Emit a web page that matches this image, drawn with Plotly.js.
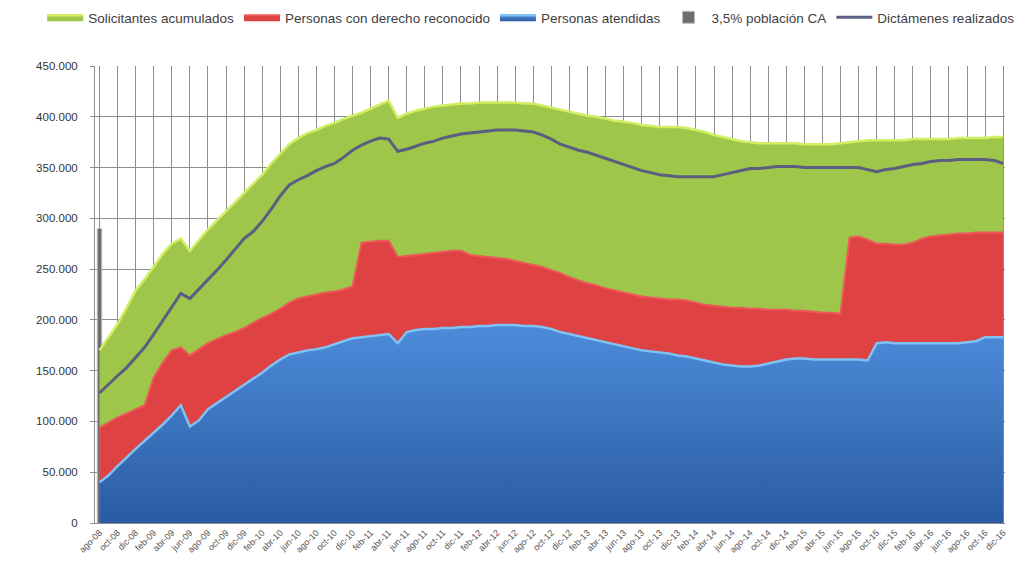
<!DOCTYPE html>
<html>
<head>
<meta charset="utf-8">
<script src="https://cdn.plot.ly/plotly-3.0.1.min.js"></script>
<style>html,body{margin:0;padding:0;background:#fff;}#chart{width:1034px;height:579px;}</style>
</head>
<body>
<div id="chart"></div>
<script>
const months = ("ago-08 sep-08 oct-08 nov-08 dic-08 " +
  "ene-09 feb-09 mar-09 abr-09 may-09 jun-09 jul-09 ago-09 sep-09 oct-09 nov-09 dic-09 " +
  "ene-10 feb-10 mar-10 abr-10 may-10 jun-10 jul-10 ago-10 sep-10 oct-10 nov-10 dic-10 " +
  "ene-11 feb-11 mar-11 abr-11 may-11 jun-11 jul-11 ago-11 sep-11 oct-11 nov-11 dic-11 " +
  "ene-12 feb-12 mar-12 abr-12 may-12 jun-12 jul-12 ago-12 sep-12 oct-12 nov-12 dic-12 " +
  "ene-13 feb-13 mar-13 abr-13 may-13 jun-13 jul-13 ago-13 sep-13 oct-13 nov-13 dic-13 " +
  "ene-14 feb-14 mar-14 abr-14 may-14 jun-14 jul-14 ago-14 sep-14 oct-14 nov-14 dic-14 " +
  "ene-15 feb-15 mar-15 abr-15 may-15 jun-15 jul-15 ago-15 sep-15 oct-15 nov-15 dic-15 " +
  "ene-16 feb-16 mar-16 abr-16 may-16 jun-16 jul-16 ago-16 sep-16 oct-16 nov-16 dic-16").split(" ");

const tickLabels = months.filter((m, i) => i % 2 === 0);

const solicitantes = [
  170000,183000,196000,212000,229000,240000,252000,265000,275000,280000,
  268000,279000,289000,298000,307000,316000,325000,334000,343000,354000,
  364000,373000,379000,384000,387000,391000,394000,398000,401000,404000,
  408000,412000,416000,399000,403000,406000,408000,410000,411000,412000,
  413000,413000,414000,414000,414000,414000,414000,413000,413000,411000,
  409000,407000,405000,403000,401000,400000,398000,396000,395000,394000,
  392000,391000,390000,390000,390000,389000,387000,385000,382000,380000,
  378000,376000,375000,374000,374000,374000,374000,374000,373000,373000,
  373000,373000,374000,375000,376000,377000,377000,377000,377000,377000,
  378000,378000,378000,378000,378000,379000,379000,379000,379000,380000,
  380000];

const derechoReconocido = [
  94000,99000,104000,108000,112000,116000,143000,158000,170000,173000,
  165000,171000,177000,181000,185000,188000,192000,197000,202000,206000,
  211000,217000,221000,223000,225000,227000,228000,230000,233000,276000,
  277000,278000,278000,262000,263000,264000,265000,266000,267000,268000,
  268000,264000,263000,262000,261000,260000,258000,256000,254000,252000,
  249000,246000,242000,239000,236000,234000,231000,229000,227000,225000,
  223000,222000,221000,220000,220000,219000,217000,215000,214000,213000,
  212000,212000,211000,211000,210000,210000,210000,209000,209000,208000,
  207000,207000,206000,281000,282000,279000,275000,275000,274000,274000,
  276000,280000,282000,283000,284000,285000,285000,286000,286000,286000,
  286000];

const atendidas = [
  40000,47000,56000,65000,73000,81000,89000,97000,106000,116000,
  95000,101000,112000,118000,124000,130000,136000,142000,148000,155000,
  161000,166000,168000,170000,171000,173000,176000,179000,182000,183000,
  184000,185000,186000,177000,188000,190000,191000,191000,192000,192000,
  193000,193000,194000,194000,195000,195000,195000,194000,194000,193000,
  191000,188000,186000,184000,182000,180000,178000,176000,174000,172000,
  170000,169000,168000,167000,165000,164000,162000,160000,158000,156000,
  155000,154000,154000,155000,157000,159000,161000,162000,162000,161000,
  161000,161000,161000,161000,161000,160000,177000,178000,177000,177000,
  177000,177000,177000,177000,177000,177000,178000,179000,183000,183000,
  183000];

const dictamenes = [
  128000,137000,145000,153000,163000,173000,186000,199000,212000,226000,
  221000,230000,240000,249000,259000,270000,280000,287000,297000,309000,
  322000,333000,338000,342000,347000,351000,354000,360000,367000,372000,
  376000,379000,378000,366000,368000,371000,374000,376000,379000,381000,
  383000,384000,385000,386000,387000,387000,387000,386000,385000,382000,
  378000,373000,370000,367000,365000,362000,359000,356000,353000,350000,
  347000,345000,343000,342000,341000,341000,341000,341000,341000,343000,
  345000,347000,349000,349000,350000,351000,351000,351000,350000,350000,
  350000,350000,350000,350000,350000,348000,346000,348000,349000,351000,
  353000,354000,356000,357000,357000,358000,358000,358000,358000,357000,
  354000];

const poblacionCats = ["ago-08"];
const poblacion35 = [290000];

const traces = [
  {
    type: 'scatter', mode: 'lines', name: 'Solicitantes acumulados',
    x: months, y: solicitantes, fill: 'tozeroy',
    fillcolor: '#9DC64A', line: {color: '#D2EF62', width: 2.5}
  },
  {
    type: 'scatter', mode: 'lines', name: 'Personas con derecho reconocido',
    x: months, y: derechoReconocido, fill: 'tozeroy',
    fillcolor: '#DE4242', line: {color: '#EE5858', width: 2}
  },
  {
    type: 'scatter', mode: 'lines', name: 'Personas atendidas',
    x: months, y: atendidas, fill: 'tozeroy',
    fillcolor: '#3E78C6',
    fillgradient: {type: 'vertical', colorscale: [[0, '#2A5BA2'], [1, '#4D8CDA']]},
    line: {color: '#7FC2F4', width: 2.5}
  },
  {
    type: 'bar', name: '3,5% población CA',
    x: poblacionCats, y: poblacion35, width: 0.5,
    marker: {color: '#6E6E6E', line: {color: '#BDBDBD', width: 1}}
  },
  {
    type: 'scatter', mode: 'lines', name: 'Dictámenes realizados',
    x: months, y: dictamenes,
    line: {color: '#5B5E80', width: 3}
  }
];

const layout = {
  width: 1034, height: 579,
  margin: {l: 95, r: 29, t: 66, b: 56, autoexpand: false},
  paper_bgcolor: '#ffffff', plot_bgcolor: '#ffffff',
  separators: ',.',
  font: {family: 'Liberation Sans, Arial, sans-serif', color: '#333'},
  showlegend: true,
  legend: {
    orientation: 'h', x: -0.058, xanchor: 'left', y: 1.14, yanchor: 'top',
    font: {size: 13.5, color: '#404040'}, traceorder: 'normal', itemwidth: 36
  },
  xaxis: {
    type: 'category', categoryorder: 'array', categoryarray: months,
    range: [-0.5, 100.2],
    tickmode: 'array', tickvals: tickLabels, ticktext: tickLabels,
    tickangle: -45, tickfont: {size: 9, color: '#555'},
    showgrid: true, gridcolor: '#8E8E8E', gridwidth: 1,
    showline: true, linecolor: '#8E8E8E', zeroline: false, ticks: ''
  },
  yaxis: {
    range: [0, 450000], dtick: 50000, tickformat: ',d',
    tickfont: {size: 11.5, color: '#333'}, ticklabelstandoff: 10,
    showgrid: true, gridcolor: '#8E8E8E', gridwidth: 1,
    showline: true, linecolor: '#8E8E8E', zeroline: false, ticks: 'outside',
    ticklen: 4, tickcolor: '#8E8E8E'
  }
};

Plotly.newPlot('chart', traces, layout, {displayModeBar: false, staticPlot: true});
</script>
</body>
</html>
